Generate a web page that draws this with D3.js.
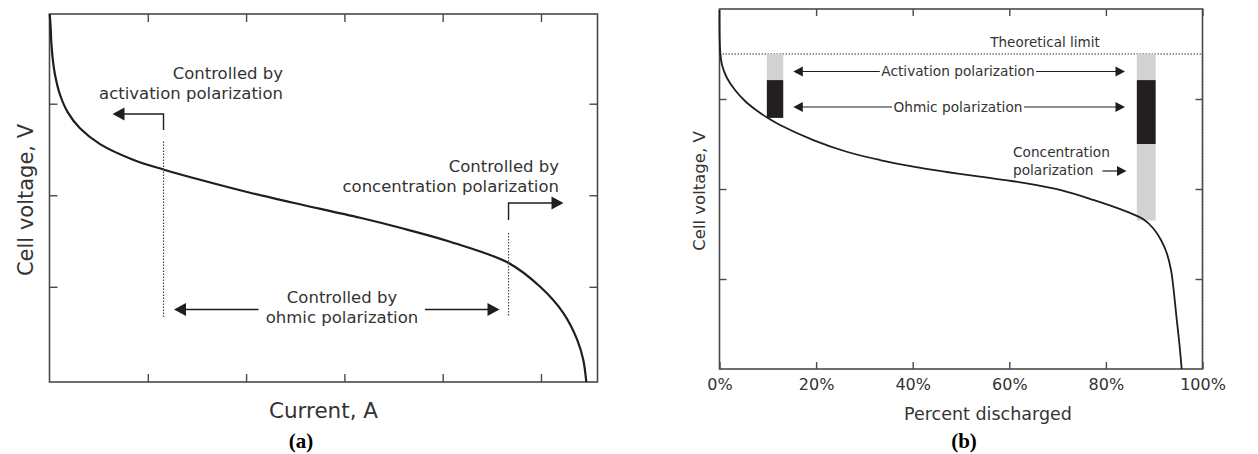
<!DOCTYPE html>
<html>
<head>
<meta charset="utf-8">
<script src="https://cdn.jsdelivr.net/npm/d3@7"></script>
<style>
  html, body { margin: 0; padding: 0; background: #fff; }
  svg { display: block; }
  text { font-family: "DejaVu Sans", sans-serif; fill: #333; }
</style>
</head>
<body>
<svg id="chart" width="1258" height="454"></svg>
<script>
// ---- Panel (a): polarization curve, cell voltage vs current ----
const currentA = [0.002, 0.010, 0.020, 0.036, 0.056, 0.107, 0.188, 0.310, 0.514, 0.850, 1.166, 1.532, 2.041, 2.478, 3.160, 3.567, 4.076, 4.667, 4.992, 5.226, 5.369, 5.430, 5.461];
const voltageA = [3.978, 3.863, 3.645, 3.459, 3.317, 3.098, 2.902, 2.731, 2.558, 2.388, 2.279, 2.169, 2.027, 1.918, 1.754, 1.645, 1.492, 1.262, 1.0, 0.716, 0.421, 0.202, -0.04];
const xTicksA = [1, 2, 3, 4, 5];
const yTicksA = [1, 2, 3];
// current values where the controlling regime changes
const regimeBoundsA = [1.16, 4.67];

// ---- Panel (b): discharge curve, cell voltage vs percent discharged ----
const percentB = [0, 0.04, 0.17, 0.52, 1.55, 3.21, 5.28, 7.56, 9.77, 12.53, 19.42, 26.34, 33.23, 40.12, 47.04, 53.93, 63.6, 70.5, 77.39, 84.3, 87.68, 89.75, 91.41, 92.59, 93.48, 93.95, 94.68, 95.24, 95.69];
const voltageB = [3.99, 3.656, 3.51, 3.378, 3.233, 3.1, 2.978, 2.878, 2.797, 2.711, 2.544, 2.414, 2.322, 2.248, 2.189, 2.137, 2.063, 1.989, 1.878, 1.748, 1.667, 1.567, 1.433, 1.289, 1.1, 0.914, 0.544, 0.267, 0];
const xTicksB = [0, 20, 40, 60, 80, 100];
const yTicksB = [1, 2, 3];
const theoreticalLimit = 3.5;
// voltage loss bars: [percent start, percent end] and the voltage levels bounding each loss
const earlyBarPercent = [9.8, 13.2];
const earlyBarLevels = [3.5, 3.21, 2.79];       // activation, ohmic
const lateBarPercent = [86.4, 90.3];
const lateBarLevels = [3.5, 3.21, 2.5, 1.65];   // activation, ohmic, concentration

const svg = d3.select("#chart");
const INK = "#1e1e1e";
const FRAME = "#4a4a4a";

function arrowHead(g, tipX, tipY, dir, len, half) {
  // dir = -1 points left, +1 points right
  g.append("path")
    .attr("d", `M${tipX},${tipY} L${tipX - dir * len},${tipY - half} L${tipX - dir * len},${tipY + half} Z`)
    .attr("fill", INK);
}

function frameAxes(g, x, y, xt, yt, tick, xLabels) {
  const [x0, x1] = x.range();
  const [y0, y1] = y.range();
  const strip = sel => { sel.select(".domain").remove(); sel.selectAll("line").attr("stroke", FRAME).attr("stroke-width", 1.4); };
  g.append("g").attr("transform", `translate(0,${y0})`)
    .call(d3.axisBottom(x).tickValues(xt).tickSize(-tick).tickPadding(10).tickFormat(xLabels || ""))
    .call(strip)
    .call(s => s.selectAll("text").attr("fill", "#333").style("font-size", "16px").style("font-family", "DejaVu Sans"));
  g.append("g").attr("transform", `translate(0,${y1})`)
    .call(d3.axisTop(x).tickValues(xt.filter(v => x(v) > x0 + 1)).tickSize(-tick).tickFormat(""))
    .call(strip);
  g.append("g").attr("transform", `translate(${x0},0)`)
    .call(d3.axisLeft(y).tickValues(yt).tickSize(-tick).tickFormat(""))
    .call(strip);
  g.append("g").attr("transform", `translate(${x1},0)`)
    .call(d3.axisRight(y).tickValues(yt).tickSize(-tick).tickFormat(""))
    .call(strip);
  g.append("rect")
    .attr("x", x0).attr("y", y1).attr("width", x1 - x0).attr("height", y0 - y1)
    .attr("fill", "none").attr("stroke", FRAME).attr("stroke-width", 1.6);
}

// ================= Panel (a) =================
const xA = d3.scaleLinear().domain([0, 5.575]).range([49.5, 597.5]);
const yA = d3.scaleLinear().domain([-0.04, 3.98]).range([382, 14]);
const gA = svg.append("g");

frameAxes(gA, xA, yA, xTicksA, yTicksA, 8, null);

gA.append("path")
  .datum(d3.zip(currentA, voltageA))
  .attr("d", d3.line().x(d => xA(d[0])).y(d => yA(d[1])).curve(d3.curveCatmullRom.alpha(0.5)))
  .attr("fill", "none").attr("stroke", INK).attr("stroke-width", 2.2);

// regime boundaries
const bLeft = xA(regimeBoundsA[0]), bRight = xA(regimeBoundsA[1]);
gA.append("line").attr("x1", bLeft).attr("x2", bLeft).attr("y1", 141.5).attr("y2", 317.5)
  .attr("stroke", "#444").attr("stroke-width", 1.2).attr("stroke-dasharray", "1.5,1.5");
gA.append("line").attr("x1", bRight).attr("x2", bRight).attr("y1", 233).attr("y2", 317)
  .attr("stroke", "#444").attr("stroke-width", 1.2).attr("stroke-dasharray", "1.5,1.5");

// elbow arrows
gA.append("path").attr("d", `M${bLeft},130 V114 H124`).attr("fill", "none").attr("stroke", INK).attr("stroke-width", 1.4);
arrowHead(gA, 112.5, 114, -1, 12, 6.5);
gA.append("path").attr("d", `M${bRight},220 V203 H552`).attr("fill", "none").attr("stroke", INK).attr("stroke-width", 1.4);
arrowHead(gA, 563.5, 203, 1, 12, 6.5);

// ohmic arrows
gA.append("line").attr("x1", 185).attr("x2", 258.5).attr("y1", 309.5).attr("y2", 309.5).attr("stroke", INK).attr("stroke-width", 1.4);
arrowHead(gA, 174, 309.5, -1, 12, 6.5);
gA.append("line").attr("x1", 425).attr("x2", 488).attr("y1", 309.5).attr("y2", 309.5).attr("stroke", INK).attr("stroke-width", 1.4);
arrowHead(gA, 499.5, 309.5, 1, 12, 6.5);

const annA = [
  { lines: ["Controlled by", "activation polarization"], x: 283, y: 79, anchor: "end" },
  { lines: ["Controlled by", "concentration polarization"], x: 559, y: 171.5, anchor: "end" },
  { lines: ["Controlled by", "ohmic polarization"], x: 342, y: 303, anchor: "middle" }
];
annA.forEach(a => {
  const t = gA.append("text").attr("text-anchor", a.anchor).style("font-size", "16.5px");
  a.lines.forEach((s, i) => t.append("tspan").attr("x", a.x).attr("y", a.y + i * 20).text(s));
});

gA.append("text").attr("transform", "translate(33,200) rotate(-90)").attr("text-anchor", "middle")
  .style("font-size", "21px").text("Cell voltage, V");
gA.append("text").attr("x", 323.5).attr("y", 418).attr("text-anchor", "middle")
  .style("font-size", "21.5px").text("Current, A");
gA.append("text").attr("x", 301).attr("y", 448).attr("text-anchor", "middle")
  .style("font-family", "Liberation Serif, serif").style("font-weight", "bold").style("font-size", "21px").style("fill", "#000").text("(a)");

// ================= Panel (b) =================
const xB = d3.scaleLinear().domain([0, 100]).range([719.5, 1202.5]);
const yB = d3.scaleLinear().domain([0, 4]).range([369, 9]);
const gB = svg.append("g");

// theoretical limit (dotted)
gB.append("path")
  .attr("d", `M${xB(0)},${yB(theoreticalLimit)} H${xB(100)} V${yB(0)}`)
  .attr("fill", "none").attr("stroke", "#333").attr("stroke-width", 1.2).attr("stroke-dasharray", "1.5,1.5");

// loss bars
const LIGHT = "#d2d2d2", DARK = "#231f20";
function lossBar(pct, levels, fills) {
  for (let i = 0; i < levels.length - 1; i++) {
    gB.append("rect")
      .attr("x", xB(pct[0])).attr("width", xB(pct[1]) - xB(pct[0]))
      .attr("y", yB(levels[i])).attr("height", yB(levels[i + 1]) - yB(levels[i]))
      .attr("fill", fills[i]);
  }
}
lossBar(earlyBarPercent, earlyBarLevels, [LIGHT, DARK]);
lossBar(lateBarPercent, lateBarLevels, [LIGHT, DARK, LIGHT]);

frameAxes(gB, xB, yB, xTicksB, yTicksB, 7, d => d + "%");

gB.append("path")
  .datum(d3.zip(percentB, voltageB))
  .attr("d", d3.line().x(d => xB(d[0])).y(d => yB(d[1])).curve(d3.curveCatmullRom.alpha(0.5)))
  .attr("fill", "none").attr("stroke", INK).attr("stroke-width", 1.8);

// double arrows across the bars
const arrowsB = [
  { label: "Activation polarization", y: 71.5 },
  { label: "Ohmic polarization", y: 107 }
];
arrowsB.forEach(a => {
  const t = gB.append("text").attr("x", 958).attr("y", a.y).attr("dy", "0.36em")
    .attr("text-anchor", "middle").style("font-size", "13.7px").text(a.label);
  const w = t.node().getComputedTextLength();
  gB.append("line").attr("x1", 802).attr("x2", 958 - w / 2 - 1.5).attr("y1", a.y).attr("y2", a.y).attr("stroke", INK).attr("stroke-width", 1.2);
  gB.append("line").attr("x1", 958 + w / 2 + 1.5).attr("x2", 1116).attr("y1", a.y).attr("y2", a.y).attr("stroke", INK).attr("stroke-width", 1.2);
  arrowHead(gB, 793.3, a.y, -1, 9.5, 5);
  arrowHead(gB, 1125, a.y, 1, 9.5, 5);
});

const conc = gB.append("text").attr("text-anchor", "start").style("font-size", "13.7px");
conc.append("tspan").attr("x", 1013).attr("y", 157).text("Concentration");
conc.append("tspan").attr("x", 1013).attr("y", 175).text("polarization");
gB.append("line").attr("x1", 1102.5).attr("x2", 1118).attr("y1", 171).attr("y2", 171).attr("stroke", INK).attr("stroke-width", 1.2);
arrowHead(gB, 1126.5, 171, 1, 9.5, 5);

gB.append("text").attr("x", 1045).attr("y", 46.5).attr("text-anchor", "middle")
  .style("font-size", "13.5px").text("Theoretical limit");

gB.append("text").attr("transform", "translate(705,191) rotate(-90)").attr("text-anchor", "middle")
  .style("font-size", "16.5px").text("Cell voltage, V");
gB.append("text").attr("x", 988).attr("y", 420).attr("text-anchor", "middle")
  .style("font-size", "17.5px").text("Percent discharged");
gB.append("text").attr("x", 964).attr("y", 448).attr("text-anchor", "middle")
  .style("font-family", "Liberation Serif, serif").style("font-weight", "bold").style("font-size", "21px").style("fill", "#000").text("(b)");
</script>
</body>
</html>
